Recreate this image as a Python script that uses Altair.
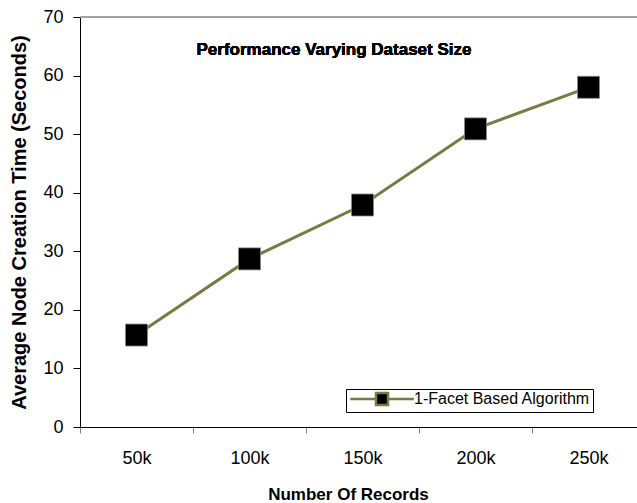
import altair as alt
import pandas as pd

records = ["50k", "100k", "150k", "200k", "250k"]
times = [15.7, 28.7, 37.9, 50.9, 58.0]
series_name = "1-Facet Based Algorithm"
y_ticks = [0, 10, 20, 30, 40, 50, 60, 70]
chart_title = "Performance Varying Dataset Size"

df = pd.DataFrame({"records": records, "time": times, "series": [series_name] * len(records)})

FONT = "Liberation Sans"
LINE_COLOR = "#7a7a42"

x_enc = alt.X(
    "records:N",
    sort=records,
    scale=alt.Scale(type="band", domain=records, range=[0, 565], paddingInner=0, paddingOuter=0),
    axis=alt.Axis(
        title="Number Of Records", labelAngle=0, tickBand="extent",
        tickSize=6, tickColor="#808080", domainColor="#000000",
        labelFont=FONT, labelFontSize=18, labelColor="#000000", labelPadding=16,
        titleFont=FONT, titleFontSize=17, titleFontWeight="bold", titleColor="#000000",
        titleX=268, titleY=72, titleBaseline="alphabetic", titleAnchor="middle", titleAlign="center",
        grid=False,
    ),
)
y_enc = alt.Y(
    "time:Q",
    scale=alt.Scale(domain=[0, 70], nice=False, zero=True),
    axis=alt.Axis(
        title="Average Node Creation Time (Seconds)", values=y_ticks,
        tickSize=7, tickColor="#000000", domainColor="#000000",
        labelFont=FONT, labelFontSize=18, labelColor="#000000", labelPadding=10,
        titleFont=FONT, titleFontSize=20, titleFontWeight="bold", titleColor="#000000",
        titlePadding=13, grid=False,
    ),
)

top_border = alt.Chart(df).mark_rule(color="#a0a0a0", strokeWidth=1).encode(y=alt.datum(70))

line = alt.Chart(df).mark_line(color=LINE_COLOR, strokeWidth=3).encode(x=x_enc, y=y_enc)

points = alt.Chart(df).mark_square(size=484, opacity=1, stroke="#888888", strokeWidth=0.8).encode(
    x=x_enc,
    y=y_enc,
    fill=alt.Fill(
        "series:N",
        scale=alt.Scale(domain=[series_name], range=["#000000"]),
        legend=alt.Legend(
            title=None, orient="none", legendX=266, legendY=372,
            symbolType="M-5.3,0H-1M1,0H5.3M-1,-1H1V1H-1Z",
            symbolSize=144, symbolStrokeColor=LINE_COLOR, symbolStrokeWidth=2.5,
            symbolOffset=26, labelOffset=24, labelLimit=400,
            labelFont=FONT, labelFontSize=16, labelColor="#000000",
            strokeColor="#000000", padding=2, fillColor="#ffffff",
        ),
    ),
)

title_text = alt.Chart(df).mark_text(
    text=chart_title, font=FONT, fontSize=17, fontWeight="bold", color="#000000",
    align="center", baseline="alphabetic",
).encode(x=alt.value(254), y=alt.value(38))

chart = (
    alt.layer(top_border, line, points, title_text)
    .properties(width=557, height=410, autosize=alt.AutoSizeParams(type="none"),
                padding={"left": 80, "top": 17, "right": 0, "bottom": 76})
    .configure_view(stroke=None)
    .configure(background="#ffffff")
)

chart.save("out.html", embed_options={"renderer": "svg", "actions": False})
